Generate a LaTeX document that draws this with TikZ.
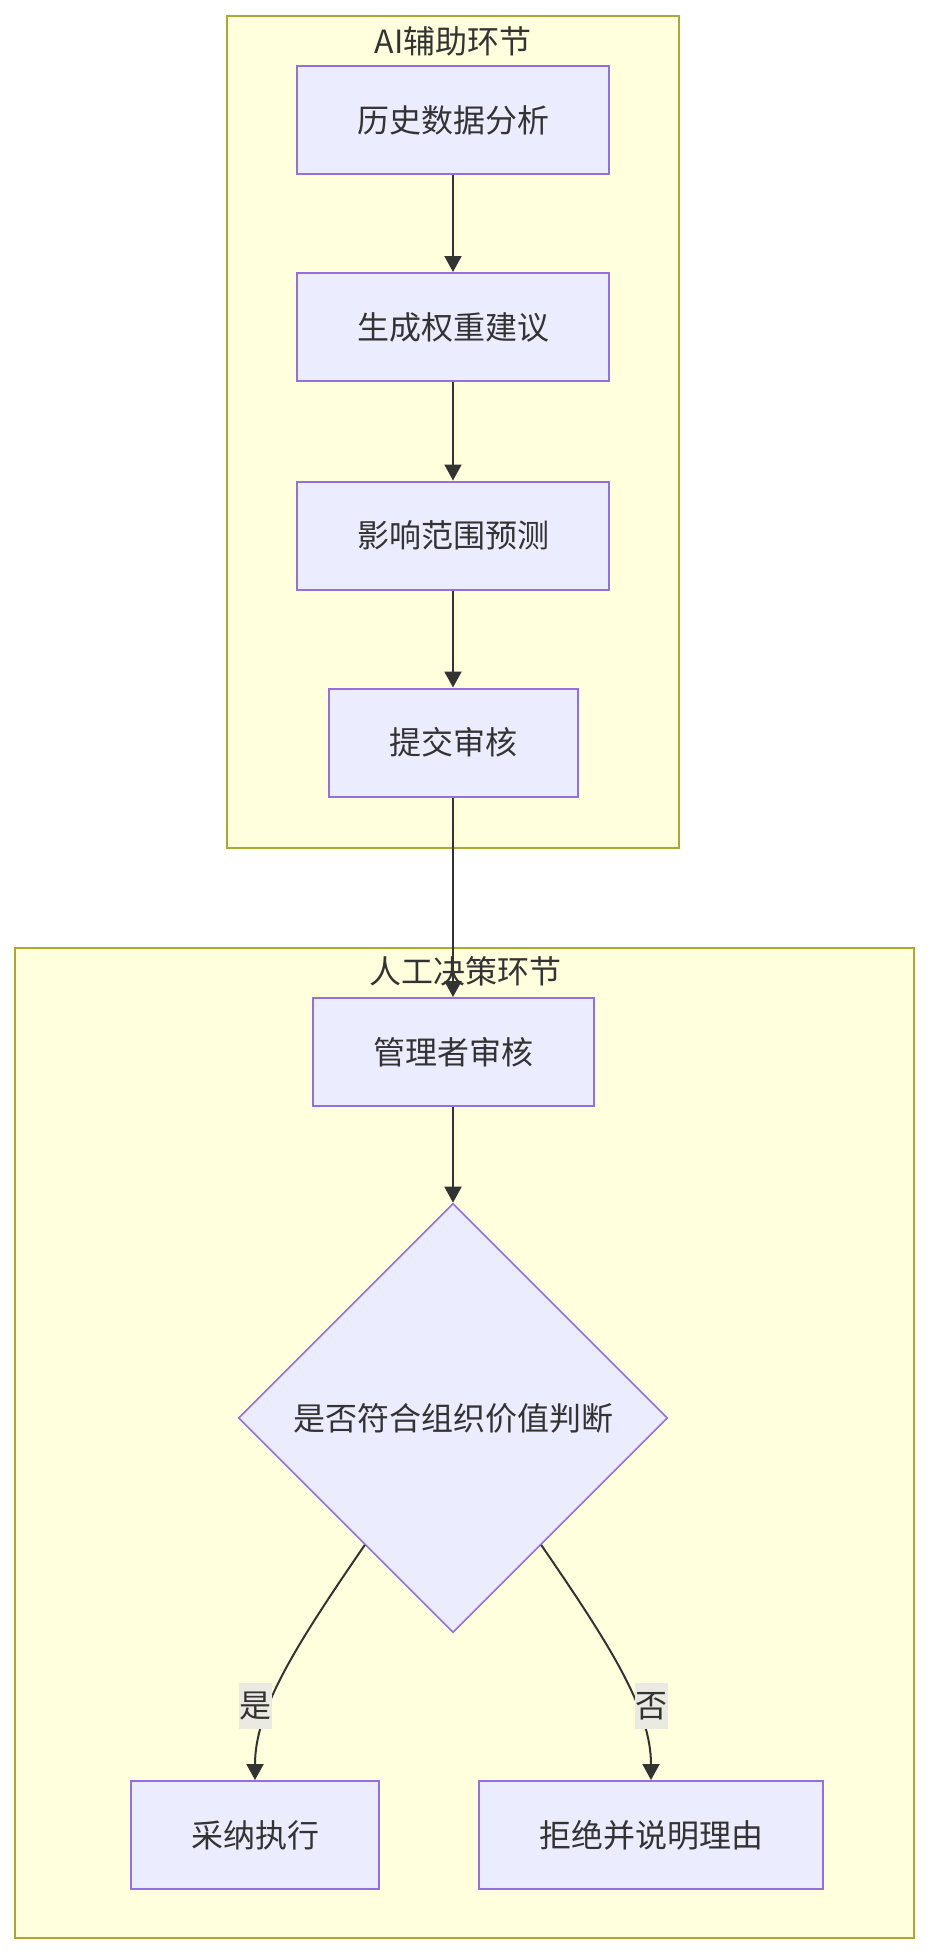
\documentclass[tikz,border=0pt]{standalone}
\usepackage{fontspec}
\setmainfont{Noto Sans CJK SC}
\usepackage{tikz}
\usetikzlibrary{positioning,arrows.meta,calc,shapes.geometric}
\definecolor{nodefill}{HTML}{ECECFF}
\definecolor{nodeline}{HTML}{9370DB}
\definecolor{groupfill}{HTML}{FFFFDE}
\definecolor{groupline}{HTML}{AAAA33}
\definecolor{ink}{HTML}{333333}
\definecolor{labelfill}{HTML}{EAEAE2}

\begin{document}
\begin{tikzpicture}[x=1pt,y=-1pt,font=\fontsize{32}{38}\selectfont,text=ink,>={Triangle[length=16pt,width=17pt]},
  box/.style={draw=nodeline,fill=nodefill,line width=2pt,minimum width=312pt,minimum height=108pt,inner sep=0pt},
  decision/.style={diamond,aspect=1,draw=nodeline,fill=nodefill,line width=1.6pt,minimum width=429pt,minimum height=429pt,inner sep=0pt},
  group/.style={draw=groupline,fill=groupfill,line width=2pt},
  flow/.style={draw=ink,line width=2pt,->},
  edgelabel/.style={fill=labelfill,inner sep=0pt,minimum width=33pt,minimum height=46pt}]
  \useasboundingbox (0,0) rectangle (930,1956);
  % ---------------- AI stage ----------------
  \draw[group] (227,16) rectangle (679,848);
  \node (aititle) at (453,41) {AI辅助环节};
  \node[box] (hist) at (453,120) {历史数据分析};
  \node[box] (gen) at (453,327) {生成权重建议};
  \node[box] (pred) at (453,535.5) {影响范围预测};
  \node[box,minimum width=249pt] (submit) at (453,742.5) {提交审核};
  % ---------------- human stage ----------------
  \draw[group] (15,948) rectangle (914,1938);
  \node (humantitle) at (465,971) {人工决策环节};
  \node[box,minimum width=281pt] (mgr) at (453,1052) {管理者审核};
  \node[decision] (check) at (453,1418) {是否符合组织价值判断};
  \node[box,minimum width=248pt] (adopt) at (255,1835) {采纳执行};
  \node[box,minimum width=344pt] (reject) at (651,1835) {拒绝并说明理由};
  % ---------------- connectors ----------------
  \draw[flow] (hist) -- (gen);
  \draw[flow] (gen) -- (pred);
  \draw[flow] (pred) -- (submit);
  \draw[flow] (submit) -- (mgr);
  \draw[flow] (mgr) -- (check);
  \draw[flow] ($(check.west)!0.59!(check.south)$) .. controls +(-70,102) and +(0,-70) .. (adopt.north);
  \draw[flow] ($(check.east)!0.59!(check.south)$) .. controls +(70,102) and +(0,-70) .. (reject.north);
  \node[edgelabel] (yes) at (255,1706) {是};
  \node[edgelabel] (no) at (651,1706) {否};
\end{tikzpicture}
\end{document}
